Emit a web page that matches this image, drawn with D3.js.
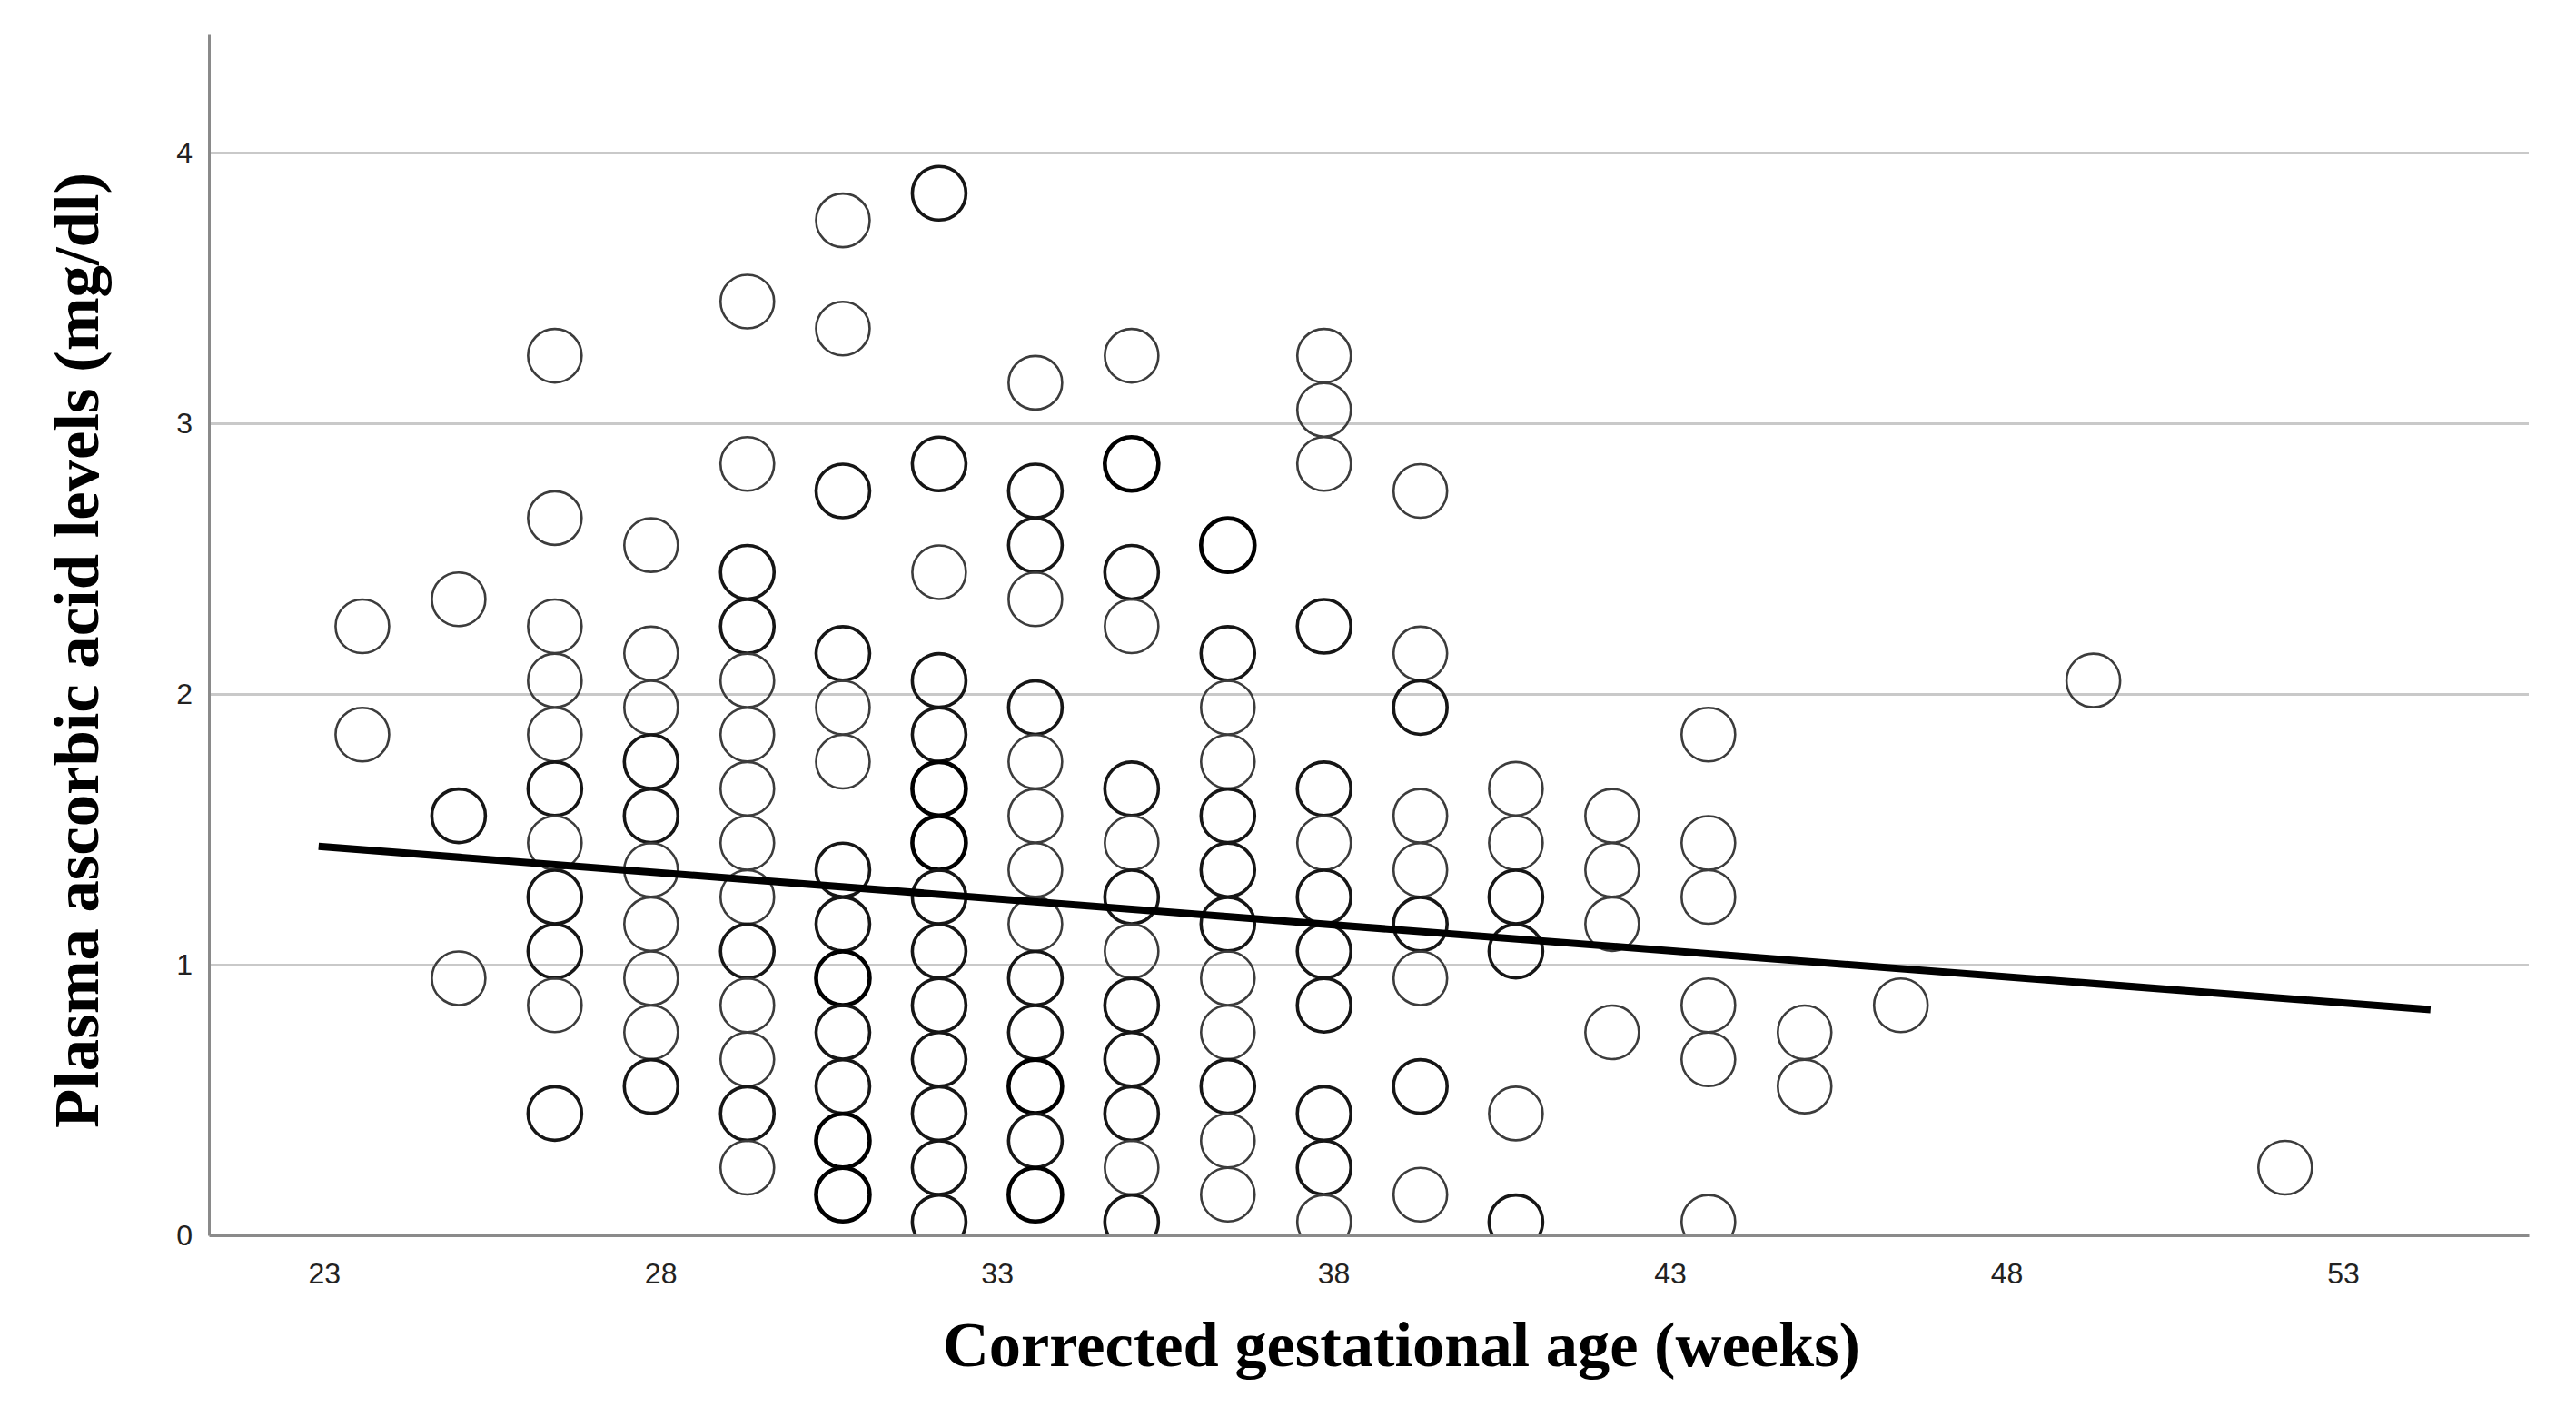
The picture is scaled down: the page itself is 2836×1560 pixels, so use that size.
<!DOCTYPE html>
<html>
<head>
<meta charset="utf-8">
<script src="https://cdn.jsdelivr.net/npm/d3@7"></script>
<style>
  html, body { margin: 0; padding: 0; background: #fff; }
  svg { display: block; }
</style>
</head>
<body>
<svg id="chart" width="2836" height="1560"></svg>
<script>
// ---- Data ----
// Corrected gestational age columns (weeks)
const ageWeeks = [23.57, 25.00, 26.43, 27.86, 29.29, 30.71, 32.14, 33.57, 35.00, 36.43,
                  37.86, 39.29, 40.71, 42.14, 43.57, 45.00, 46.43, 49.29, 52.14];
// Plasma ascorbic acid levels (mg/dl) per age column
const levels = [
  [2.25, 1.85],
  [2.35, 1.55, 0.95],
  [3.25, 2.65, 2.25, 2.05, 1.85, 1.65, 1.45, 1.25, 1.05, 0.85, 0.45],
  [2.55, 2.15, 1.95, 1.75, 1.55, 1.35, 1.15, 0.95, 0.75, 0.55],
  [3.45, 2.85, 2.45, 2.25, 2.05, 1.85, 1.65, 1.45, 1.25, 1.05, 0.85, 0.65, 0.45, 0.25],
  [3.75, 3.35, 2.75, 2.15, 1.95, 1.75, 1.35, 1.15, 0.95, 0.75, 0.55, 0.35, 0.15],
  [3.85, 2.85, 2.45, 2.05, 1.85, 1.65, 1.45, 1.25, 1.05, 0.85, 0.65, 0.45, 0.25, 0.05],
  [3.15, 2.75, 2.55, 2.35, 1.95, 1.75, 1.55, 1.35, 1.15, 0.95, 0.75, 0.55, 0.35, 0.15],
  [3.25, 2.85, 2.45, 2.25, 1.65, 1.45, 1.25, 1.05, 0.85, 0.65, 0.45, 0.25, 0.05],
  [2.55, 2.15, 1.95, 1.75, 1.55, 1.35, 1.15, 0.95, 0.75, 0.55, 0.35, 0.15],
  [3.25, 3.05, 2.85, 2.25, 1.65, 1.45, 1.25, 1.05, 0.85, 0.45, 0.25, 0.05],
  [2.75, 2.15, 1.95, 1.55, 1.35, 1.15, 0.95, 0.55, 0.15],
  [1.65, 1.45, 1.25, 1.05, 0.45, 0.05],
  [1.55, 1.35, 1.15, 0.75],
  [1.85, 1.45, 1.25, 0.85, 0.65, 0.05],
  [0.75, 0.55],
  [0.85],
  [2.05],
  [0.25]
];
// Number of overlapping cases at each point (darker rings = more cases)
const overlaps = [
  [1, 1],
  [1, 2, 1],
  [1, 1, 1, 1, 1, 2, 1, 2, 2, 1, 2],
  [1, 1, 1, 2, 2, 1, 1, 1, 1, 2],
  [1, 1, 2, 2, 1, 1, 1, 1, 1, 2, 1, 1, 2, 1],
  [1, 1, 2, 2, 1, 1, 2, 2, 3, 2, 2, 3, 3],
  [2, 2, 1, 2, 2, 3, 3, 2, 2, 2, 2, 2, 2, 2],
  [1, 2, 2, 1, 2, 1, 1, 1, 1, 2, 2, 3, 2, 3],
  [1, 3, 2, 1, 2, 1, 2, 1, 2, 2, 2, 1, 2],
  [3, 2, 1, 1, 2, 2, 2, 1, 1, 2, 1, 1],
  [1, 1, 1, 2, 2, 1, 2, 2, 2, 2, 2, 1],
  [1, 1, 2, 1, 1, 2, 1, 2, 1],
  [1, 1, 2, 2, 1, 2],
  [1, 1, 1, 1],
  [1, 1, 1, 1, 1, 1],
  [1, 1],
  [1],
  [1],
  [1]
];
// Linear fit line end points
const fitAge = [22.92, 54.30];
const fitLevel = [1.437, 0.834];
// Tick labels
const xTicks = [23, 28, 33, 38, 43, 48, 53];
const yTicks = [0, 1, 2, 3, 4];
const gridTicks = [1, 2, 3, 4];
const xTitle = "Corrected gestational age (weeks)";
const yTitle = "Plasma ascorbic acid levels (mg/dl)";

// ---- Layout ----
const plotL = 230, plotR = 2784, plotT = 37, plotB = 1360;
const svg = d3.select("#chart");
svg.append("rect").attr("width", 2836).attr("height", 1560).attr("fill", "#fff");

const x = d3.scaleLinear().domain([21.29, 55.76]).range([plotL, plotR]);
const y = d3.scaleLinear().domain([0, 4.44]).range([plotB, plotT]);

// clip for plot area
svg.append("defs").append("clipPath").attr("id", "plotClip")
  .append("rect").attr("x", plotL).attr("y", plotT).attr("width", plotR - plotL).attr("height", plotB - plotT);

// gridlines
const grid = svg.append("g").attr("transform", `translate(${plotL},0)`)
  .call(d3.axisLeft(y).tickValues(gridTicks).tickSize(-(plotR - plotL)).tickFormat(""));
grid.select(".domain").remove();
grid.selectAll(".tick line").attr("stroke", "#c9c9c9").attr("stroke-width", 3);

// points
const pts = [];
ageWeeks.forEach((a, i) => levels[i].forEach((v, j) => pts.push({a, v, n: overlaps[i][j]})));
const strokeColor = n => n >= 3 ? "#000" : (n === 2 ? "#161616" : "#3c3c3c");
const strokeW = n => n >= 3 ? 4.6 : (n === 2 ? 3.6 : 2.6);
svg.append("g").attr("clip-path", "url(#plotClip)")
  .selectAll("circle").data(pts).join("circle")
  .attr("cx", d => x(d.a)).attr("cy", d => y(d.v)).attr("r", 29.5)
  .attr("fill", "none")
  .attr("stroke", d => strokeColor(d.n))
  .attr("stroke-width", d => strokeW(d.n));

// fit line
const fitData = fitAge.map((a, i) => [a, fitLevel[i]]);
svg.append("path").datum(fitData)
  .attr("d", d3.line().x(d => x(d[0])).y(d => y(d[1])))
  .attr("fill", "none").attr("stroke", "#000").attr("stroke-width", 8);

// axes
const yAxis = svg.append("g").attr("transform", `translate(${plotL},0)`)
  .call(d3.axisLeft(y).tickValues(yTicks).tickSize(0).tickPadding(18).tickFormat(d3.format("d")));
yAxis.select(".domain").attr("stroke", "#8a8a8a").attr("stroke-width", 3);
yAxis.selectAll("text").attr("font-family", "'Liberation Sans', Arial, sans-serif")
  .attr("font-size", 32).attr("fill", "#222");

const xAxis = svg.append("g").attr("transform", `translate(0,${plotB})`)
  .call(d3.axisBottom(x).tickValues(xTicks).tickSize(0).tickPadding(30).tickFormat(d3.format("d")));
xAxis.select(".domain").attr("stroke", "#8a8a8a").attr("stroke-width", 3);
xAxis.selectAll("text").attr("font-family", "'Liberation Sans', Arial, sans-serif")
  .attr("font-size", 32).attr("fill", "#222");

// titles
svg.append("text")
  .attr("x", 1543).attr("y", 1504)
  .attr("text-anchor", "middle")
  .attr("font-family", "'Liberation Serif', 'Times New Roman', serif")
  .attr("font-weight", "bold").attr("font-size", 70).attr("fill", "#000")
  .attr("textLength", 1010).attr("lengthAdjust", "spacingAndGlyphs")
  .text(xTitle);

svg.append("text")
  .attr("transform", "translate(108,716) rotate(-90)")
  .attr("text-anchor", "middle")
  .attr("font-family", "'Liberation Serif', 'Times New Roman', serif")
  .attr("font-weight", "bold").attr("font-size", 70).attr("fill", "#000")
  .attr("textLength", 1052).attr("lengthAdjust", "spacingAndGlyphs")
  .text(yTitle);
</script>
</body>
</html>
